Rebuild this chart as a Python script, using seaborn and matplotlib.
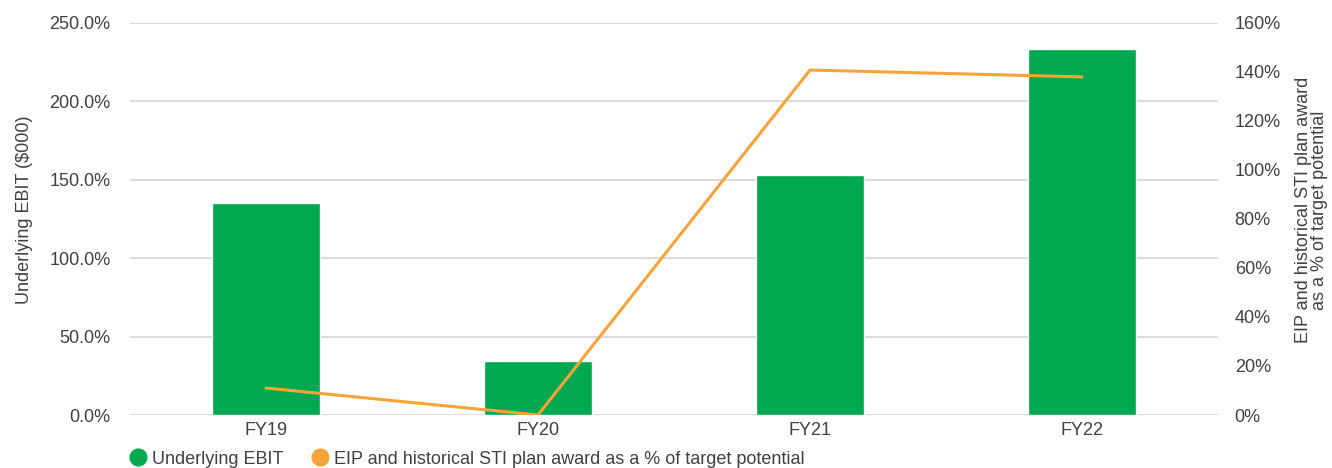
import numpy as np
import pandas as pd
import matplotlib
matplotlib.use("Agg")
import matplotlib.pyplot as plt
from matplotlib.lines import Line2D
from matplotlib.ticker import FuncFormatter
import seaborn as sns

categories = ["FY19", "FY20", "FY21", "FY22"]
ebit_pct = [135.2, 34.4, 153.0, 233.4]
award_pct = [11.0, 0.0, 140.8, 138.0]
left_ticks = [0, 50, 100, 150, 200, 250]
right_ticks = [0, 20, 40, 60, 80, 100, 120, 140, 160]

GREEN = "#00a94f"
ORANGE = "#f7a33a"
TEXT = "#404040"
GRID = "#dcdcdc"
FS = 13

sns.set_theme(style="white")
plt.rcParams["font.family"] = ["Liberation Sans", "DejaVu Sans"]

df = pd.DataFrame({"cat": categories, "ebit": ebit_pct, "award": award_pct})

fig = plt.figure(figsize=(13.32, 4.68), dpi=100)
ax = fig.add_axes([130 / 1332, 53 / 468, (1218 - 130) / 1332, (415 - 23) / 468])

sns.barplot(data=df, x="cat", y="ebit", color=GREEN, saturation=1, width=0.4, ax=ax, zorder=2)
ax.set_xlim(-0.5, len(categories) - 0.5)
ax.set_ylim(0, 250)
ax.set_yticks(left_ticks)
ax.yaxis.set_major_formatter(FuncFormatter(lambda v, p: f"{v:.1f}%"))
ax.grid(axis="y", color=GRID, linewidth=1.5, zorder=0)
ax.set_axisbelow(True)
for s in ax.spines.values():
    s.set_visible(False)
ax.set_xlabel("")
ax.set_ylabel("Underlying EBIT ($000)", fontsize=FS, color=TEXT, labelpad=12)
ax.yaxis.label.set_y(0.523)
ax.tick_params(axis="both", length=0, labelsize=FS, labelcolor=TEXT)
ax.tick_params(axis="y", pad=14)
ax.tick_params(axis="x", pad=5)

ax2 = ax.twinx()
sns.lineplot(x=np.arange(len(categories)), y=df["award"], color=ORANGE, linewidth=2.2, ax=ax2, zorder=3)
ax2.set_ylim(0, 160)
ax2.set_yticks(right_ticks)
ax2.yaxis.set_major_formatter(FuncFormatter(lambda v, p: f"{v:.0f}%"))
for s in ax2.spines.values():
    s.set_visible(False)
ax2.grid(False)
ax2.set_ylabel("EIP and historical STI plan award\nas a % of target potential",
               fontsize=FS, color=TEXT, labelpad=10, linespacing=0.95)
ax2.yaxis.label.set_y(0.523)
ax2.tick_params(axis="y", length=0, labelsize=FS, labelcolor=TEXT, pad=12)
ax2.set_xlim(-0.5, len(categories) - 0.5)

handles = [
    Line2D([], [], marker="o", linestyle="none", markersize=12, color=GREEN, label="Underlying EBIT"),
    Line2D([], [], marker="o", linestyle="none", markersize=12, color=ORANGE,
           label="EIP and historical STI plan award as a % of target potential"),
]
leg = fig.legend(handles=handles, loc="lower left", bbox_to_anchor=(122 / 1332, -7 / 468),
                 ncol=2, frameon=False, fontsize=FS, handlelength=1.0, handletextpad=0.25,
                 columnspacing=1.55, borderaxespad=0)
for t in leg.get_texts():
    t.set_color(TEXT)

fig.savefig("out.png", dpi=100)
